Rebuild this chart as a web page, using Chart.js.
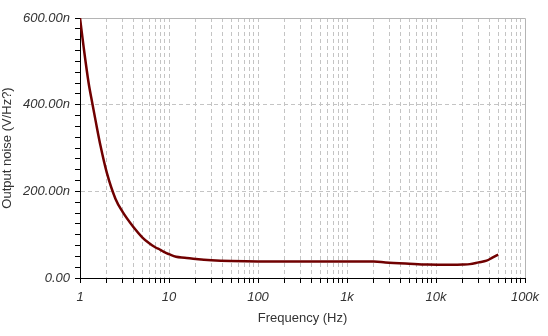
<!DOCTYPE html>
<html>
<head>
<meta charset="utf-8">
<script src="https://cdn.jsdelivr.net/npm/chart.js@4.4.1/dist/chart.umd.min.js"></script>
<style>
  html, body { margin: 0; padding: 0; background: #ffffff; }
  #wrap { width: 548px; height: 336px; }
</style>
</head>
<body>
<div id="wrap"><canvas id="c" width="548" height="336"></canvas></div>
<script>
// Frequency (Hz)
const freqHz = [1, 1.1, 1.25, 1.37, 1.5, 1.7, 2, 2.5, 3, 4, 5, 6, 7, 8, 9, 10, 12, 15, 20, 30, 50, 100, 300, 1000, 2000, 2700, 5000, 8000, 15000, 20000, 24000, 30000, 37000, 43000, 50000];
// Output noise (nV/Hz)
const noiseN = [600, 532, 450, 405, 362, 305, 243, 183, 153, 117, 94, 80, 71, 65, 59, 55, 49, 47, 44, 41, 39, 38, 38, 38, 38, 36, 33, 31, 30.5, 31, 32, 36, 40, 47, 54];
// Axis ticks
const xTickValues = [1,2,3,4,5,6,7,8,9,10,20,30,40,50,60,70,80,90,100,200,300,400,500,600,700,800,900,1000,2000,3000,4000,5000,6000,7000,8000,9000,10000,20000,30000,40000,50000,60000,70000,80000,90000,100000];
const xMajorLabels = {1: '1', 10: '10', 100: '100', 1000: '1k', 10000: '10k', 100000: '100k'};
const yMajorLabels = {0: '0.00', 200: '200.00n', 400: '400.00n', 600: '600.00n'};

const frameLines = {
  id: 'frameLines',
  beforeDatasetsDraw(chart) {
    const {ctx, chartArea: a} = chart;
    ctx.save();
    ctx.strokeStyle = '#b4b4b4';
    ctx.lineWidth = 1;
    ctx.beginPath();
    ctx.moveTo(a.left, a.top + 0.5);
    ctx.lineTo(a.right + 0.5, a.top + 0.5);
    ctx.lineTo(a.right + 0.5, a.bottom);
    ctx.stroke();
    ctx.restore();
  }
};

new Chart(document.getElementById('c'), {
  type: 'line',
  data: {
    datasets: [{
      data: freqHz.map((f, i) => ({x: f, y: noiseN[i]})),
      borderColor: '#700000',
      borderWidth: 2.5,
      pointRadius: 0,
      cubicInterpolationMode: 'monotone',
      fill: false
    }]
  },
  plugins: [frameLines],
  options: {
    responsive: false,
    animation: false,
    layout: { padding: { top: 18, right: 23, left: 0, bottom: 0 } },
    plugins: { legend: { display: false }, tooltip: { enabled: false } },
    scales: {
      x: {
        type: 'logarithmic',
        min: 1,
        max: 100000,
        afterBuildTicks(scale) { scale.ticks = xTickValues.map(v => ({value: v})); },
        afterFit(scale) { scale.height = 58; },
        border: { display: true, color: '#000000', width: 1, dash: [4, 3] },
        grid: {
          color: (ctx) => (ctx.tick && ctx.tick.value > 1 && ctx.tick.value < 100000) ? '#c4c4c4' : 'rgba(0,0,0,0)',
          tickColor: '#000000',
          tickLength: 5,
          drawOnChartArea: true
        },
        ticks: {
          autoSkip: false,
          maxRotation: 0,
          padding: 7,
          color: '#333333',
          font: { family: 'Liberation Sans, Arial, sans-serif', size: 13, style: 'italic' },
          callback: (v) => (xMajorLabels[v] !== undefined ? xMajorLabels[v] : '')
        },
        title: {
          display: true,
          text: 'Frequency (Hz)',
          color: '#333333',
          font: { family: 'Liberation Sans, Arial, sans-serif', size: 13 },
          padding: { top: 0, bottom: 10 }
        }
      },
      y: {
        min: 0,
        max: 600,
        afterFit(scale) { scale.width = 80; },
        border: { display: true, color: '#000000', width: 1, dash: [4, 3] },
        grid: {
          color: (ctx) => (ctx.tick && ctx.tick.value > 0 && ctx.tick.value < 600 && ctx.tick.value % 200 === 0) ? '#c4c4c4' : 'rgba(0,0,0,0)',
          tickColor: '#000000',
          tickLength: 5
        },
        ticks: {
          stepSize: 25,
          autoSkip: false,
          padding: 5,
          color: '#333333',
          font: { family: 'Liberation Sans, Arial, sans-serif', size: 13, style: 'italic' },
          callback: (v) => (yMajorLabels[v] !== undefined ? yMajorLabels[v] : '')
        },
        title: {
          display: true,
          text: 'Output noise (V/Hz?)',
          color: '#333333',
          font: { family: 'Liberation Sans, Arial, sans-serif', size: 13 },
          padding: { top: 0, bottom: 2 }
        }
      }
    }
  }
});
</script>
</body>
</html>
